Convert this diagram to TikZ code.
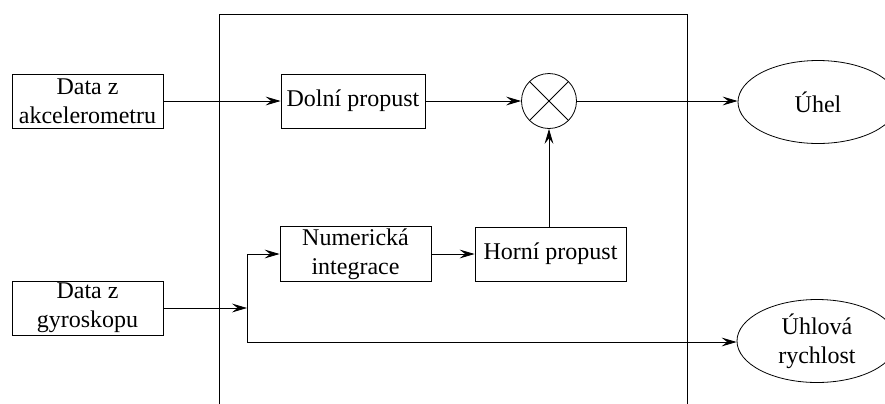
\documentclass[tikz,border=0pt]{standalone}
\usepackage{fontspec}
\setmainfont{Liberation Serif}
\usetikzlibrary{arrows.meta,shapes.geometric}

\tikzset{
	blok/.style={draw,rectangle,align=center,minimum height=27pt,inner sep=1pt,
		font=\fontsize{12}{14.5}\selectfont},
	vystup/.style={draw,ellipse,align=center,minimum width=80pt,minimum height=41.5pt,
		inner sep=0pt,font=\fontsize{12}{14.5}\selectfont},
	nasob/.style={draw,circle,minimum size=27.5pt,inner sep=0pt,
		path picture={\draw (path picture bounding box.north west) -- (path picture bounding box.south east)
			(path picture bounding box.north east) -- (path picture bounding box.south west);}},
	sipka/.style={-{Stealth[length=7.5pt,width=4.4pt,inset=2.8pt]}}
}

\begin{document}
\begin{tikzpicture}[x=0.5pt,y=-0.5pt]
	\clip (0,0) rectangle (885,403);
	% ramecek filtru, dole otevreny
	\draw (219,420) -- (219,14) -- (687,14) -- (687,420);
	\foreach \poloha/\jmeno/\sirka/\text in
	{{(87.5,101)}/accel/75.5pt/{Data z\\akcelerometru},
	{(353,101)}/dolni/72pt/{Dolní propust},
	{(355.5,254)}/numint/75.5pt/{Numerická\\integrace},
	{(550.5,254)}/horni/75.5pt/{Horní propust},
	{(87.5,308)}/gyro/75.5pt/{Data z\\gyroskopu}}
		{\node[blok,minimum width=\sirka] (\jmeno) at \poloha {\text};}
	\node[nasob] (mult) at (549,101) {};
	\node[vystup] (uhel) at (818,102) {Úhel};
	\node[vystup] (rychlost) at (817,341) {Úhlová\\rychlost};
	\coordinate (rozb) at (247,308);
	\coordinate (rozbA) at (247,254);
	\coordinate (rozbB) at (247,342);
	% spoje
	\draw[sipka] (accel) -- (dolni);
	\draw[sipka] (dolni) -- (mult);
	\draw[sipka] (mult) -- (mult -| uhel.west);
	\draw[sipka] (gyro.east |- rozb) -- (rozb);
	\draw (rozbA) -- (rozbB);
	\draw[sipka] (rozbA) -- (numint);
	\draw[sipka] (rozbB) -- (rozbB -| rychlost.west);
	\draw[sipka] (numint) -- (horni);
	\draw[sipka] (horni.north -| mult) -- (mult);
\end{tikzpicture}
\end{document}
